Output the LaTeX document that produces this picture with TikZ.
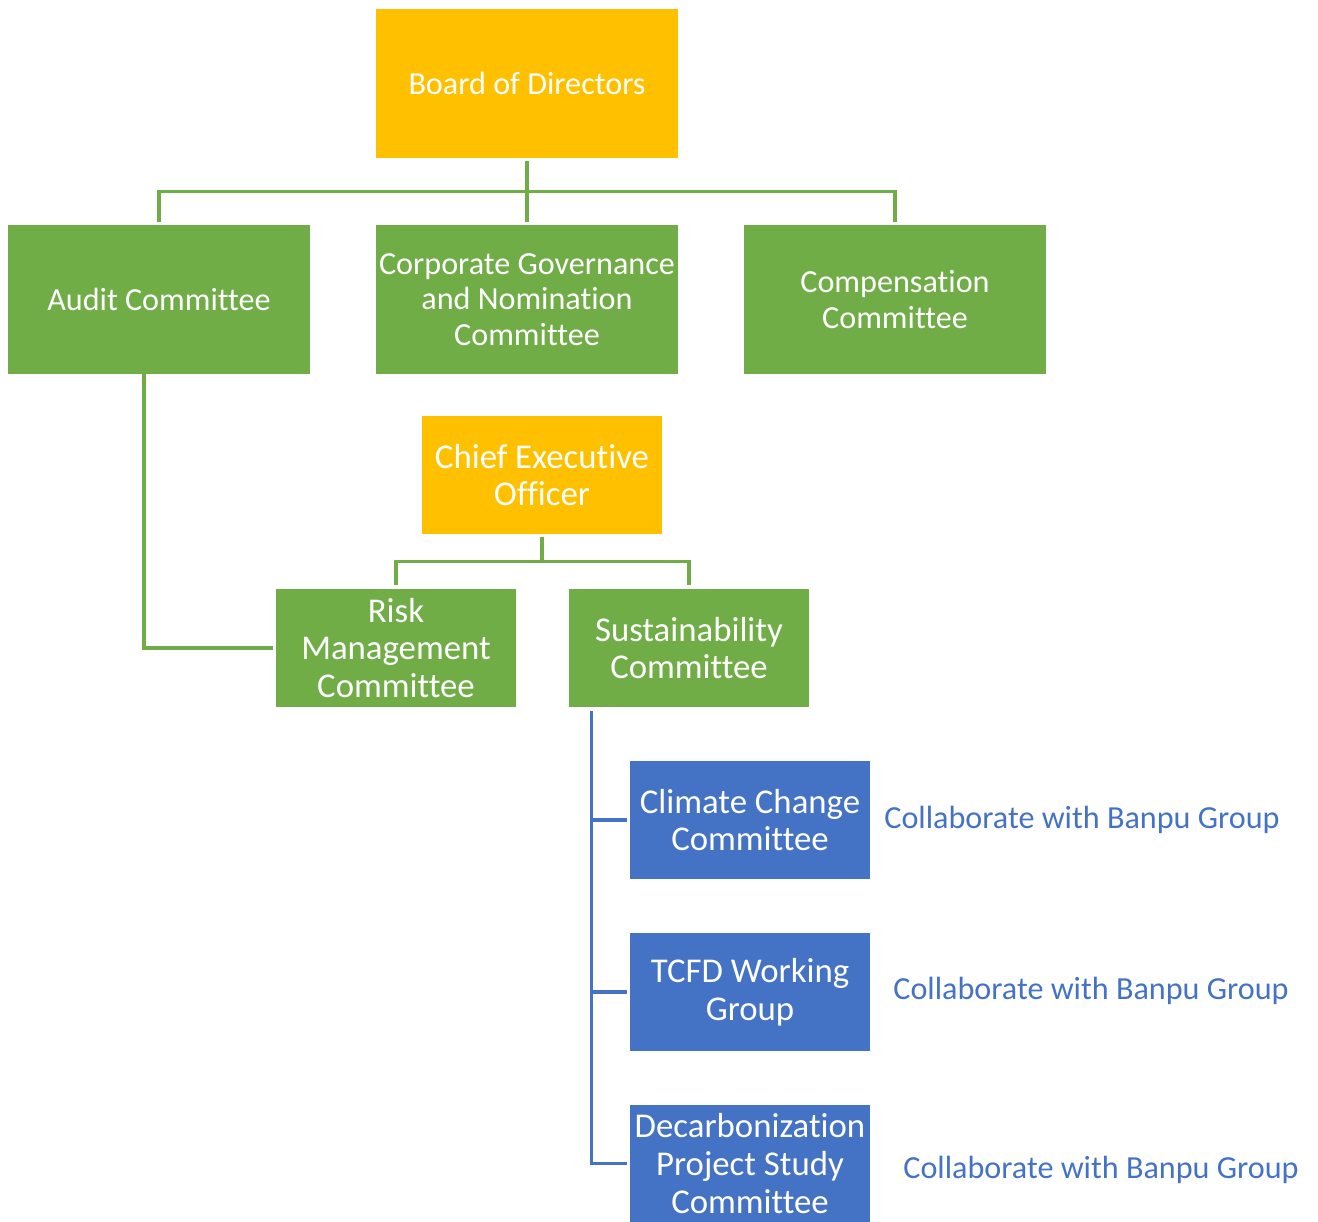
\documentclass[tikz,border=0pt]{standalone}
\usepackage{fontspec}
\setmainfont[Ligatures=NoCommon]{Carlito}
\usetikzlibrary{calc}
\definecolor{gold}{HTML}{FFC000}
\definecolor{grn}{HTML}{70AD47}
\definecolor{blu}{HTML}{4472C4}
\tikzset{
  box/.style={draw=none, text=white, align=center, inner sep=0pt, font=\fontsize{18.3}{20.1}\selectfont},
  wide/.style={box, minimum width=6.04cm, minimum height=2.98cm},
  narrow/.style={box, minimum width=4.8cm, minimum height=2.36cm, font=\fontsize{19.8}{21.5}\selectfont},
  goldbox/.style={fill=gold},
  grnbox/.style={fill=grn},
  blubox/.style={fill=blu},
  gline/.style={draw=grn, line width=1.8pt},
  bline/.style={draw=blu, line width=1.8pt},
  collab/.style={text=blu, inner sep=0pt, font=\fontsize{18.3}{20}\selectfont}
}
\begin{document}
\begin{tikzpicture}[x=0.02cm,y=-0.02cm]
\useasboundingbox (0,0) rectangle (1318,1222);
\node[wide,goldbox] (board) at (527,83.5) {Board of Directors};
\node[wide,grnbox] (audit) at (159,299.5) {Audit Committee};
\node[wide,grnbox] (cgn) at (527,299.5) {Corporate Governance\\and Nomination\\Committee};
\node[wide,grnbox] (comp) at (895,299.5) {Compensation\\Committee};
\node[narrow,goldbox] (ceo) at (542,475) {Chief Executive\\Officer};
\node[narrow,grnbox] (risk) at (396,648) {Risk\\Management\\Committee};
\node[narrow,grnbox] (sus) at (689,648) {Sustainability\\Committee};
\node[narrow,blubox] (climate) at (750,820) {Climate Change\\Committee};
\node[narrow,blubox] (tcfd) at (750,992) {TCFD Working\\Group};
\node[narrow,blubox] (decarb) at (750,1163.5) {Decarbonization\\Project Study\\Committee};
\node[collab] (col1) at (1082,820) {Collaborate with Banpu Group};
\node[collab] (col2) at (1091,991) {Collaborate with Banpu Group};
\node[collab] (col3) at (1101,1170) {Collaborate with Banpu Group};
% board connectors
\coordinate (bj) at (527,192);
\draw[gline] ($(board.south)+(0,3)$) -- (bj);
\draw[gline] (bj) -- ($(cgn.north)+(0,-3)$);
\draw[gline] ($(audit.north)+(0,-3)$) |- ($(comp.north)+(0,-33)$) -- ($(comp.north)+(0,-3)$);
% audit to risk
\draw[gline] ($(audit.south)+(-15,0)$) |- ($(risk.west)+(-3,0)$);
% ceo connectors
\coordinate (cj) at (542,562);
\draw[gline] ($(ceo.south)+(0,3)$) -- (cj);
\draw[gline] ($(risk.north)+(0,-4)$) |- ($(sus.north)+(0,-27)$) -- ($(sus.north)+(0,-4)$);
% sustainability branches
\draw[bline] ($(sus.south west)+(23,4)$) |- ($(decarb.west)+(-3,0)$);
\draw[bline] ($(climate.west)+(-38,0)$) -- ($(climate.west)+(-3,0)$);
\draw[bline] ($(tcfd.west)+(-38,0)$) -- ($(tcfd.west)+(-3,0)$);
\end{tikzpicture}
\end{document}
